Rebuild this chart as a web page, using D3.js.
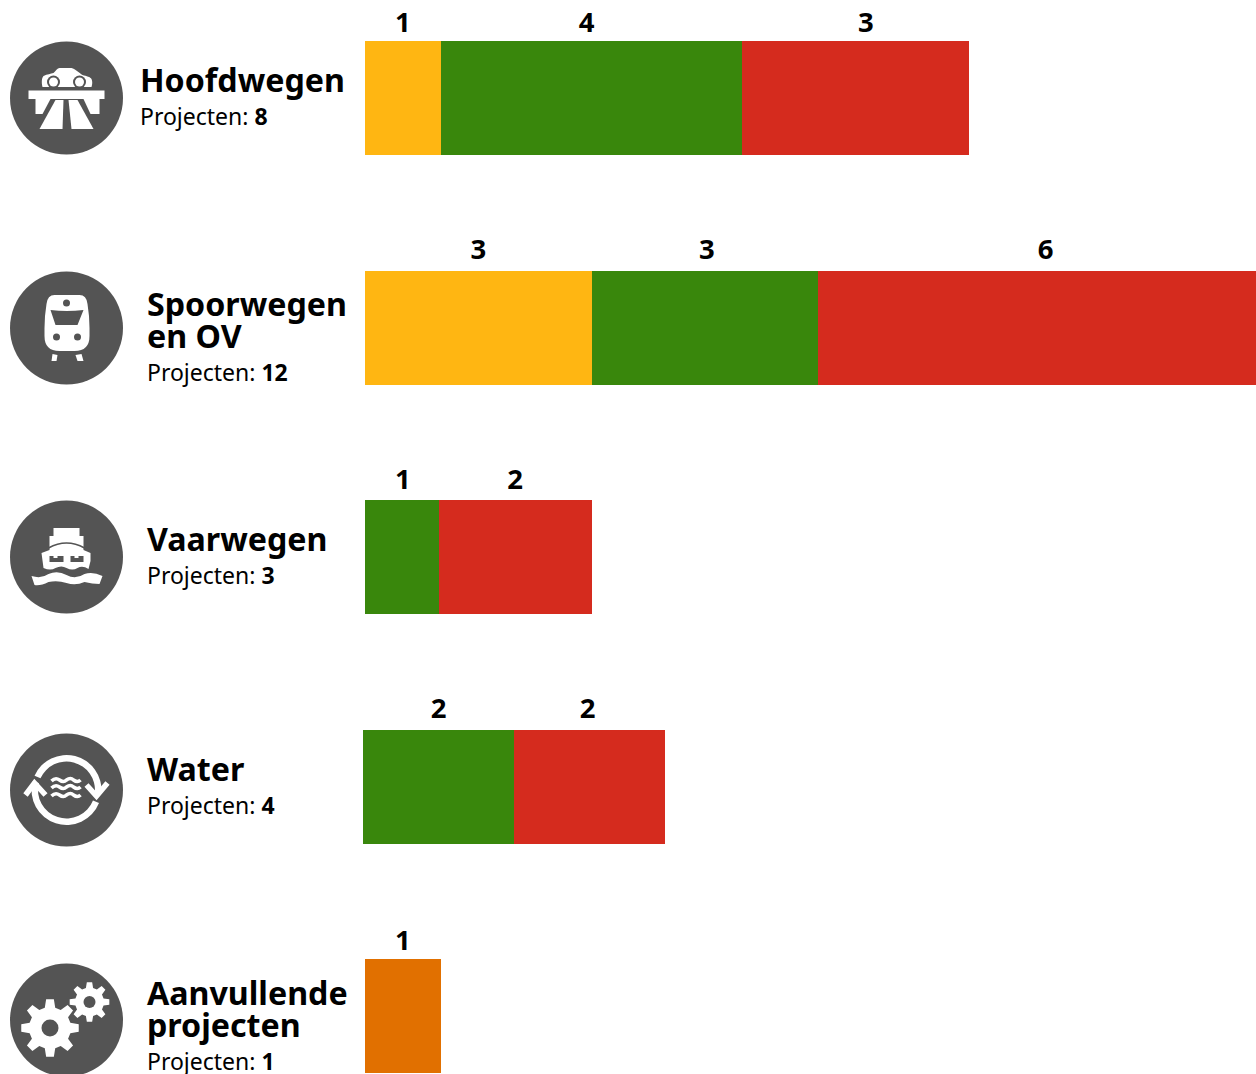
<!DOCTYPE html>
<html>
<head>
<meta charset="utf-8">
<script src="https://cdn.jsdelivr.net/npm/d3@7"></script>
<style>
html, body { margin: 0; padding: 0; background: #fff; overflow: hidden; }
text { font-family: "Noto Sans", sans-serif; fill: #000; }
</style>
</head>
<body>
<div id="chart"></div>
<script>
// chart values
const categories = [["Hoofdwegen"], ["Spoorwegen", "en OV"], ["Vaarwegen"], ["Water"], ["Aanvullende", "projecten"]]
const iconNames = ["road", "train", "ship", "water", "gears"]
const statusNames = ["geel", "groen", "rood", "oranje"]
const geel = [1, 3, 0, 0, 0]
const groen = [4, 3, 1, 2, 0]
const rood = [3, 6, 2, 2, 0]
const oranje = [0, 0, 0, 0, 1]
const projectLabel = "Projecten: "

const width = 1256, height = 1074
const barHeight = 114
const iconX = 66.5, iconRadius = 56.5, iconColor = "#545454"
const colors = {geel: "#ffb612", groen: "#39870c", rood: "#d52b1e", oranje: "#e17000"}

// small hand corrections, the reference is not completely regular
const barNudge = [0, 0, 0, -2, 0]
const edgeNudge = {"0-5": -1, "2-1": -2}
const iconNudge = [0, 0, 0, 3, 4]
const labelNudge = {"0-groen": -5, "0-rood": 10, "1-groen": 2, "1-rood": 1, "2-rood": -1, "3-rood": -2}
const labelLift = [9, 12, 11, 12, 9]
const textX = [140, 147, 147, 147, 147]
const titleBase = [92, 316, 551, 781, 1005]

const xScale = d3.scaleLinear().domain([0, 12]).range([0, 906])
const yScale = d3.scalePoint().domain(d3.range(categories.length)).range([41, 959])

const svg = d3.select("#chart").append("svg")
    .attr("width", width)
    .attr("height", height)

const stack = d3.stack().keys(statusNames)(categories.map((c, i) => ({
    geel: geel[i], groen: groen[i], rood: rood[i], oranje: oranje[i]
})))

function drawRow(lines, i) {
    const top = Math.round(yScale(i))
    const left = 365 + barNudge[i]
    const row = svg.append("g")
    const edge = v => Math.round(left + xScale(v)) + (edgeNudge[i + "-" + v] || 0)

    stack.forEach(s => {
        const d = s[i]
        if (d[1] === d[0]) return
        row.append("rect")
            .attr("x", edge(d[0]))
            .attr("y", top)
            .attr("width", edge(d[1]) - edge(d[0]))
            .attr("height", barHeight)
            .attr("fill", colors[s.key])
        row.append("text")
            .attr("x", left + xScale((d[0] + d[1]) / 2) + (labelNudge[i + "-" + s.key] || 0))
            .attr("y", top - labelLift[i])
            .attr("text-anchor", "middle")
            .attr("font-size", 27.5)
            .attr("font-weight", 700)
            .text(d[1] - d[0])
    })

    lines.forEach((line, n) => {
        row.append("text")
            .attr("x", textX[i])
            .attr("y", titleBase[i] + n * 32)
            .attr("font-size", 32.2)
            .attr("font-weight", 700)
            .text(line)
    })

    const sub = row.append("text")
        .attr("x", textX[i])
        .attr("y", titleBase[i] + (lines.length - 1) * 32 + 33)
        .attr("font-size", 23)
    sub.append("tspan").text(projectLabel)
    sub.append("tspan")
        .attr("font-weight", 700)
        .text(geel[i] + groen[i] + rood[i] + oranje[i])

    const icon = row.append("g")
        .attr("transform", "translate(" + iconX + "," + (top + barHeight / 2 + iconNudge[i]) + ")")
    icon.append("circle")
        .attr("r", iconRadius)
        .attr("fill", iconColor)
    iconDrawers[iconNames[i]](icon)
}

function white(g, d) {
    return g.append("path").attr("d", d).attr("fill", "#fff")
}

function dark(g, d) {
    return g.append("path").attr("d", d).attr("fill", iconColor)
}

function dot(g, x, y, r, fill) {
    g.append("circle").attr("cx", x).attr("cy", y).attr("r", r).attr("fill", fill)
}

function line(g, d, sw) {
    return g.append("path")
        .attr("d", d)
        .attr("fill", "none")
        .attr("stroke", "#fff")
        .attr("stroke-width", sw)
}

function gearPath(cx, cy, outer, inner, teeth) {
    const step = 2 * Math.PI / teeth
    let d = ""
    for (let i = 0; i < teeth; i++) {
        const a = i * step - Math.PI / 2
        const pts = [[inner, a - step * 0.32], [outer, a - step * 0.17], [outer, a + step * 0.17], [inner, a + step * 0.32]]
        pts.forEach((p, n) => {
            d += (i === 0 && n === 0 ? "M" : "L") + (cx + p[0] * Math.cos(p[1])) + "," + (cy + p[0] * Math.sin(p[1]))
        })
    }
    return d + "Z"
}

const iconDrawers = {
    road: g => {
        white(g, "M-24,-11 C-25,-15 -25,-20 -23,-22 C-19,-24 -16,-24 -13,-25 C-11,-27 -9,-30 -7,-30 L5,-30 C9,-29 13,-25 16,-23 C20,-22 24,-21 25,-19 C26,-17 26,-14 25,-11 Z")
        dot(g, -13, -16, 6.5, iconColor)
        dot(g, 13, -16, 6.5, iconColor)
        dot(g, -13, -16, 4.5, "#fff")
        dot(g, 13, -16, 4.5, "#fff")
        white(g, "M-38,-7.5 L38,-7.5 L38,1 L-38,1 Z")
        white(g, "M-31,1 L-16,1 L-24,16 L-31,16 Z")
        white(g, "M17,1 L33,1 L33,16 L24,16 Z")
        white(g, "M-11,2 L-3,2 L-4,31 L-27,31 Z")
        white(g, "M2,2 L11,2 L27,31 L5,31 Z")
    },
    train: g => {
        white(g, "M-12,-33 L13,-33 Q20,-33 21,-24 Q23,-12 23,0 L23,8 Q23,23 8,23 L-7,23 Q-22,23 -22,8 L-22,0 Q-22,-12 -20,-24 Q-19,-33 -12,-33 Z")
        dark(g, "M-16,-18 Q0,-16 17,-18 L11,-3 L-11,-3 Z")
        dot(g, 0, -25, 3.5, iconColor)
        dot(g, -10, 9, 3.5, iconColor)
        dot(g, 11, 9, 3.5, iconColor)
        white(g, "M-14,26 L-9,27 L-10,33 L-15,33 Z")
        white(g, "M9,27 L15,26 L17,33 L11,33 Z")
    },
    ship: g => {
        white(g, "M-13,-29 L13,-29 L13,-21 L17,-21 L17,-7 L24,-4 L24,4 L22,12 Q16,8 11,11 Q6,14 0,11 Q-5,8 -11,11 Q-16,14 -23,11 L-25,-4 L-17,-7 L-17,-21 L-13,-21 Z")
        line(g, "M-18,-9 Q0,-19 18,-9", 1.5).attr("stroke", iconColor)
        dark(g, "M-17,-1 L-13,-1 L-13,1 L-9,1 L-9,-1 L-3,-1 L-3,5 L-17,5 Z")
        dark(g, "M4,-1 L8,-1 L8,1 L12,1 L12,-1 L17,-1 L17,5 L4,5 Z")
        white(g, "M-35,19 Q-25,22 -18,17 Q-9,13 0,18 Q9,23 18,17 Q26,14 36,19 L33,27 Q26,27 18,25 Q9,29 0,26 Q-9,23 -18,25 Q-26,29 -32,28 Z")
    },
    water: g => {
        const arc = d3.arc().innerRadius(28.5).outerRadius(35)
        g.append("path")
            .attr("d", arc({startAngle: -1.15, endAngle: 1.65}))
            .attr("fill", "#fff")
        g.append("path")
            .attr("d", arc({startAngle: 1.95, endAngle: 4.96}))
            .attr("fill", "#fff")
        line(g, "M-41,5 L-32,-7 L-21,5", 5.5)
        line(g, "M20,-5 L30,6 L41,-7", 5.5)
        line(g, "M-15,-9 Q-11,-13 -7,-10 Q-3,-7 0,-10 Q4,-13 7,-10 Q11,-7 14,-10", 3.5)
        line(g, "M-15,-2 Q-11,-6 -7,-3 Q-3,0 0,-3 Q4,-6 7,-3 Q11,0 14,-3", 3.5)
        line(g, "M-15,6 Q-11,2 -7,5 Q-3,8 0,5 Q4,2 7,5 Q11,8 14,5", 3.5)
    },
    gears: g => {
        white(g, gearPath(-16.5, 8, 29, 21, 8))
        dot(g, -16.5, 8, 8.5, iconColor)
        white(g, gearPath(23, -18, 20, 14.5, 8))
        dot(g, 23, -18, 6, iconColor)
    }
}

categories.forEach((lines, i) => drawRow(lines, i))
</script>
</body>
</html>
